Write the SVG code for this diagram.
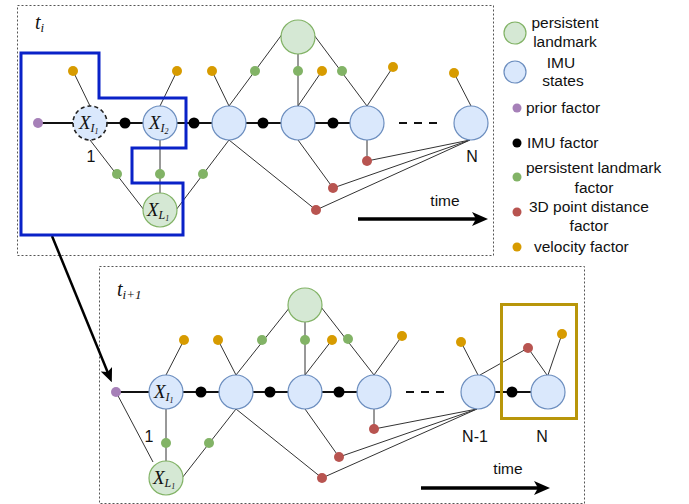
<svg xmlns="http://www.w3.org/2000/svg" width="689" height="504" viewBox="0 0 689 504">
<defs>
<style>
.frame{fill:none;stroke:#555;stroke-width:1;stroke-dasharray:2,2}
.ln{stroke:#333;stroke-width:1;fill:none}
.chain{stroke:#111;stroke-width:2;fill:none}
.imu{fill:#dae8fc;stroke:#6c8ebf;stroke-width:1.2}
.lm{fill:#d5e8d4;stroke:#82b366;stroke-width:1.2}
.fp{fill:#a680b8}
.fb{fill:#000}
.fg{fill:#82b366}
.fr{fill:#b85450}
.fo{fill:#d79b00}
.txt{font-family:"Liberation Sans",Arial,sans-serif;font-size:15.5px;fill:#111}
.lbl{font-family:"Liberation Sans",Arial,sans-serif;font-size:16px;fill:#111}
.math{font-family:"Liberation Serif","Times New Roman",serif;font-style:italic;fill:#111}
</style>
<marker id="ah" markerUnits="userSpaceOnUse" viewBox="0 0 16 14" refX="5" refY="7" markerWidth="16" markerHeight="14" orient="auto">
<path d="M0,0 L16,7 L0,14 L4,7 z" fill="#000"/>
</marker>
<marker id="ah2" markerUnits="userSpaceOnUse" viewBox="0 0 14 12" refX="4" refY="6" markerWidth="14" markerHeight="12" orient="auto">
<path d="M0,0 L14,6 L0,12 L3,6 z" fill="#000"/>
</marker>
</defs>

<g id="frames">
<rect class="frame" x="17.5" y="5.5" width="476" height="250"/>
<rect class="frame" x="99.5" y="266.5" width="485" height="237"/>
</g>

<g id="connectors">
<line class="chain" x1="38" y1="123" x2="350" y2="123"/>
<line class="chain" x1="399" y1="123" x2="438" y2="123" stroke-dasharray="8,7"/>
<line class="ln" x1="73" y1="71" x2="90" y2="106"/>
<line class="ln" x1="177" y1="71" x2="160" y2="106"/>
<line class="ln" x1="212" y1="71" x2="229" y2="106"/>
<line class="ln" x1="322" y1="71" x2="298" y2="106"/>
<line class="ln" x1="393" y1="67" x2="367" y2="106"/>
<line class="ln" x1="454" y1="73" x2="471" y2="106"/>
<line class="ln" x1="283" y1="33" x2="229" y2="106"/>
<line class="ln" x1="298" y1="54" x2="298" y2="106"/>
<line class="ln" x1="314" y1="35" x2="367" y2="106"/>
<line class="ln" x1="90" y1="140" x2="144" y2="210"/>
<line class="ln" x1="160" y1="140" x2="160" y2="193"/>
<line class="ln" x1="229" y1="140" x2="176" y2="210"/>
<line class="ln" x1="367" y1="140" x2="367" y2="161"/>
<line class="ln" x1="298" y1="140" x2="333" y2="188"/>
<line class="ln" x1="229" y1="140" x2="316" y2="210"/>
<line class="ln" x1="470" y1="140" x2="367" y2="161"/>
<line class="ln" x1="470" y1="140" x2="333" y2="188"/>
<line class="ln" x1="470" y1="140" x2="316" y2="210"/>

<line class="chain" x1="116" y1="392" x2="374" y2="392"/>
<line class="chain" x1="478" y1="392" x2="548" y2="392"/>
<line class="chain" x1="406" y1="392" x2="444" y2="392" stroke-dasharray="8,7"/>
<line class="ln" x1="184" y1="340" x2="166" y2="375"/>
<line class="ln" x1="218" y1="340" x2="236" y2="375"/>
<line class="ln" x1="332" y1="340" x2="305" y2="375"/>
<line class="ln" x1="402" y1="336" x2="374" y2="375"/>
<line class="ln" x1="461" y1="342" x2="478" y2="375"/>
<line class="ln" x1="562" y1="334" x2="548" y2="375"/>
<line class="ln" x1="290" y1="307" x2="236" y2="375"/>
<line class="ln" x1="305" y1="322" x2="305" y2="375"/>
<line class="ln" x1="321" y1="307" x2="374" y2="375"/>
<line class="ln" x1="166" y1="409" x2="166" y2="461"/>
<line class="ln" x1="236" y1="409" x2="182" y2="478"/>
<line class="ln" x1="116" y1="392" x2="153" y2="462"/>
<line class="ln" x1="236" y1="409" x2="322" y2="478"/>
<line class="ln" x1="305" y1="409" x2="339" y2="457"/>
<line class="ln" x1="374" y1="409" x2="374" y2="429"/>
<line class="ln" x1="477" y1="409" x2="374" y2="429"/>
<line class="ln" x1="477" y1="409" x2="339" y2="457"/>
<line class="ln" x1="477" y1="409" x2="322" y2="478"/>
<polyline class="ln" points="480,375 528,348 547,375"/>

<line x1="52" y1="236" x2="108" y2="373" stroke="#000" stroke-width="2.5" marker-end="url(#ah2)"/>
<line x1="358" y1="219" x2="477" y2="219" stroke="#000" stroke-width="3.5" marker-end="url(#ah)"/>
<line x1="421" y1="488" x2="539" y2="488" stroke="#000" stroke-width="3.5" marker-end="url(#ah)"/>
</g>

<g id="highlight-blue">
<polygon points="21,53 99,53 99,98 186,98 186,148 132,148 132,183 183,183 183,235 21,235" fill="none" stroke="#0a22c8" stroke-width="3"/>
</g>
<g id="highlight-gold">
<rect x="501.5" y="304.5" width="75" height="114" fill="none" stroke="#b8960a" stroke-width="3"/>
</g>

<g id="top-XI1"><circle cx="90" cy="123" r="17" style="fill:#dae8fc;stroke:#222;stroke-width:1.6;stroke-dasharray:4,3"/>
<text class="math" x="79" y="129" font-size="19">X<tspan font-size="12" dy="3">I</tspan><tspan font-size="8" dy="2">1</tspan></text></g>
<g id="top-XI2"><circle class="imu" cx="160" cy="123" r="17"/>
<text class="math" x="149" y="129" font-size="19">X<tspan font-size="12" dy="3">I</tspan><tspan font-size="8" dy="2">2</tspan></text></g>
<g id="top-imu3"><circle class="imu" cx="229" cy="123" r="17"/></g>
<g id="top-imu4"><circle class="imu" cx="298" cy="123" r="17"/></g>
<g id="top-imu5"><circle class="imu" cx="367" cy="123" r="17"/></g>
<g id="top-imuN"><circle class="imu" cx="471" cy="123" r="17"/></g>
<g id="top-landmark"><circle class="lm" cx="298" cy="37" r="17"/></g>
<g id="top-XL1"><circle class="lm" cx="160" cy="210" r="17"/>
<text class="math" x="147" y="216" font-size="19">X<tspan font-size="12" dy="3">L</tspan><tspan font-size="8" dy="2">1</tspan></text></g>

<g id="top-factors">
<circle class="fp" cx="38" cy="123" r="5"/>
<circle class="fb" cx="125" cy="123" r="5.5"/>
<circle class="fb" cx="194" cy="123" r="5.5"/>
<circle class="fb" cx="263" cy="123" r="5.5"/>
<circle class="fb" cx="333" cy="123" r="5.5"/>
<circle class="fo" cx="73" cy="71" r="5"/>
<circle class="fo" cx="177" cy="71" r="5"/>
<circle class="fo" cx="212" cy="71" r="5"/>
<circle class="fo" cx="322" cy="71" r="5"/>
<circle class="fo" cx="393" cy="67" r="5"/>
<circle class="fo" cx="454" cy="73" r="5"/>
<circle class="fg" cx="255" cy="71" r="5"/>
<circle class="fg" cx="298" cy="71" r="5"/>
<circle class="fg" cx="342" cy="71" r="5"/>
<circle class="fg" cx="117" cy="174" r="5"/>
<circle class="fg" cx="160" cy="174" r="5"/>
<circle class="fg" cx="203" cy="174" r="5"/>
<circle class="fr" cx="367" cy="161" r="5"/>
<circle class="fr" cx="333" cy="188" r="5"/>
<circle class="fr" cx="316" cy="210" r="5"/>
</g>

<g id="bot-XI1"><circle class="imu" cx="166" cy="392" r="17"/>
<text class="math" x="154" y="398" font-size="19">X<tspan font-size="12" dy="3">I</tspan><tspan font-size="8" dy="2">1</tspan></text></g>
<g id="bot-imu2"><circle class="imu" cx="236" cy="392" r="17"/></g>
<g id="bot-imu3"><circle class="imu" cx="305" cy="392" r="17"/></g>
<g id="bot-imu4"><circle class="imu" cx="374" cy="392" r="17"/></g>
<g id="bot-imuN-1"><circle class="imu" cx="478" cy="392" r="17"/></g>
<g id="bot-imuN"><circle class="imu" cx="548" cy="392" r="17"/></g>
<g id="bot-landmark"><circle class="lm" cx="305" cy="305" r="17"/></g>
<g id="bot-XL1"><circle class="lm" cx="166" cy="478" r="17"/>
<text class="math" x="153" y="484" font-size="19">X<tspan font-size="12" dy="3">L</tspan><tspan font-size="8" dy="2">1</tspan></text></g>

<g id="bot-factors">
<circle class="fp" cx="116" cy="392" r="5"/>
<circle class="fb" cx="201" cy="392" r="5.5"/>
<circle class="fb" cx="270" cy="392" r="5.5"/>
<circle class="fb" cx="339" cy="392" r="5.5"/>
<circle class="fb" cx="512" cy="392" r="5.5"/>
<circle class="fo" cx="184" cy="340" r="5"/>
<circle class="fo" cx="218" cy="340" r="5"/>
<circle class="fo" cx="332" cy="340" r="5"/>
<circle class="fo" cx="402" cy="336" r="5"/>
<circle class="fo" cx="461" cy="342" r="5"/>
<circle class="fo" cx="562" cy="334" r="5"/>
<circle class="fg" cx="262" cy="340" r="5"/>
<circle class="fg" cx="305" cy="340" r="5"/>
<circle class="fg" cx="348" cy="339" r="5"/>
<circle class="fg" cx="166" cy="443" r="5"/>
<circle class="fg" cx="209" cy="443" r="5"/>
<circle class="fr" cx="374" cy="429" r="5"/>
<circle class="fr" cx="339" cy="457" r="5"/>
<circle class="fr" cx="322" cy="478" r="5"/>
<circle class="fr" cx="528" cy="348" r="5"/>
</g>

<g id="labels">
<text class="math" x="35" y="29" font-size="20">t<tspan font-size="13" dy="3">i</tspan></text>
<text class="math" x="117" y="296" font-size="20">t<tspan font-size="13" dy="3">i+1</tspan></text>
<text class="lbl" x="91" y="162" text-anchor="middle">1</text>
<text class="lbl" x="472" y="162" text-anchor="middle">N</text>
<text class="lbl" x="149" y="442" text-anchor="middle">1</text>
<text class="lbl" x="475" y="442" text-anchor="middle">N-1</text>
<text class="lbl" x="542" y="442" text-anchor="middle">N</text>
<text class="txt" x="445" y="206" text-anchor="middle">time</text>
<text class="txt" x="508" y="474" text-anchor="middle">time</text>
</g>

<g id="legend">
<circle class="lm" cx="515" cy="33" r="11"/>
<text class="txt" x="565" y="28" text-anchor="middle">persistent</text>
<text class="txt" x="565" y="47" text-anchor="middle">landmark</text>
<circle class="imu" cx="515" cy="72" r="11"/>
<text class="txt" x="561" y="68" text-anchor="middle">IMU</text>
<text class="txt" x="563" y="86" text-anchor="middle">states</text>
<circle class="fp" cx="517" cy="108" r="4.5"/>
<text class="txt" x="526" y="113">prior factor</text>
<circle class="fb" cx="517" cy="143" r="4.5"/>
<text class="txt" x="527" y="148">IMU factor</text>
<circle class="fg" cx="517" cy="177" r="4.5"/>
<text class="txt" x="526" y="173">persistent landmark</text>
<text class="txt" x="594" y="193" text-anchor="middle">factor</text>
<circle class="fr" cx="517" cy="212" r="4.5"/>
<text class="txt" x="529" y="212">3D point distance</text>
<text class="txt" x="589" y="231" text-anchor="middle">factor</text>
<circle class="fo" cx="517" cy="247" r="4.5"/>
<text class="txt" x="534" y="252">velocity factor</text>
</g>
</svg>
